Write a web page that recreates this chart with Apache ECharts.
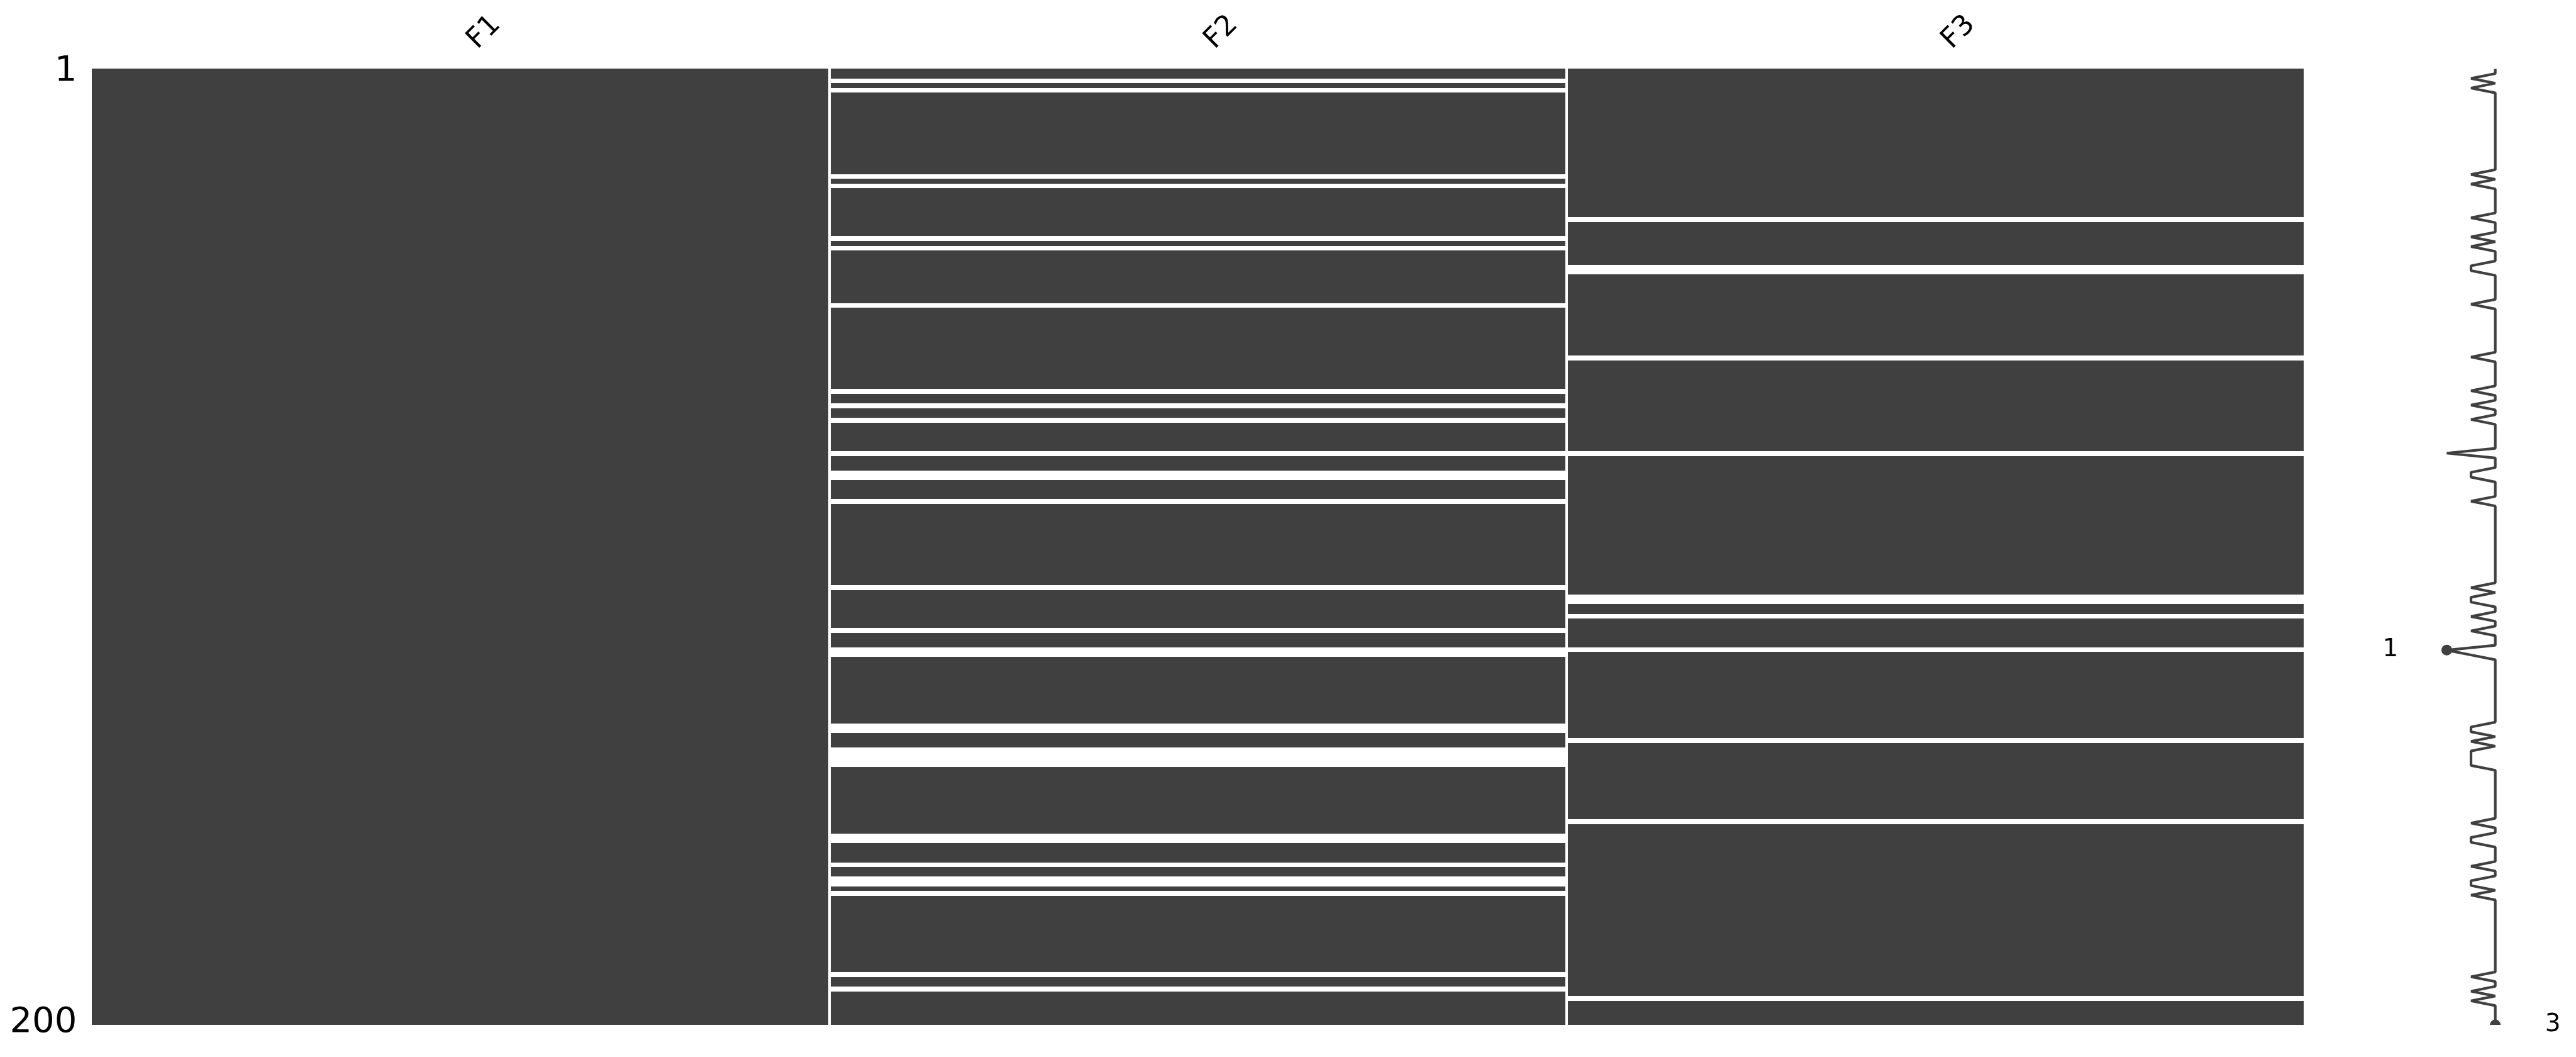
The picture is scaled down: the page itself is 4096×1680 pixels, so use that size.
<!DOCTYPE html>
<html>
<head>
<meta charset="utf-8">
<script src="https://cdn.jsdelivr.net/npm/echarts@6/dist/echarts.min.js"></script>
<style>
html,body{margin:0;padding:0;background:#ffffff;}
#chart{width:4096px;height:1680px;}
</style>
</head>
<body>
<div id="chart"></div>
<script>
// ---------------- data ----------------
const columns = ['F1', 'F2', 'F3'];
const rowCount = 200;
// 1-based row numbers of missing (null) cells per column
const f1MissingRows = [];
const f2MissingRows = [3, 5, 23, 25, 36, 38, 50, 68, 71, 74, 81, 85, 86, 91, 109, 118, 122, 123,
                       138, 139, 143, 144, 145, 146, 161, 162, 167, 170, 171, 173, 190, 193];
const f3MissingRows = [32, 42, 43, 61, 81, 111, 112, 115, 122, 141, 158, 195];
const rowTickLabels = ['1', '200'];

// ---------------- derived ----------------
const missingByColumn = [f1MissingRows, f2MissingRows, f3MissingRows];
const rowNames = [];
for (let r = 1; r <= rowCount; r++) rowNames.push(String(r));

const cellData = [];
missingByColumn.forEach((miss, c) => {
  const set = new Set(miss);
  for (let r = 1; r <= rowCount; r++) {
    if (!set.has(r)) cellData.push([c, r - 1]);
  }
});

const completeness = [];
for (let r = 1; r <= rowCount; r++) {
  let n = 0;
  missingByColumn.forEach(m => { if (!m.includes(r)) n++; });
  completeness.push(n);
}
const minC = Math.min(...completeness), maxC = Math.max(...completeness);
const minIdx = completeness.lastIndexOf(minC), maxIdx = completeness.lastIndexOf(maxC);
const sparkMin = minC - 2, sparkMax = maxC + 2;

const DARK = '#404040';
const FONT = 'DejaVu Sans';

const chart = echarts.init(document.getElementById('chart'), null, {renderer: 'canvas'});
chart.setOption({
  animation: false,
  backgroundColor: '#ffffff',
  grid: [
    {left: 146.3, top: 109.4, width: 3516.7, height: 1519.5},
    {left: 3813.3, top: 109.4, width: 231.5, height: 1519.5}
  ],
  xAxis: [
    {
      gridIndex: 0, type: 'category', position: 'top', data: columns,
      axisLine: {show: false}, axisTick: {show: false}, splitLine: {show: false},
      axisLabel: {show: false}
    },
    {gridIndex: 1, type: 'value', min: sparkMin, max: sparkMax, show: false}
  ],
  yAxis: [
    {
      gridIndex: 0, type: 'category', data: rowNames, inverse: true,
      axisLine: {show: false}, axisTick: {show: false}, splitLine: {show: false},
      axisLabel: {
        interval: 0, fontSize: 56, fontFamily: FONT, color: '#000000', margin: 24,
        formatter: (v, i) => i === 0 ? rowTickLabels[0] : (i === rowCount - 1 ? rowTickLabels[1] : '')
      }
    },
    {gridIndex: 1, type: 'value', min: 0, max: rowCount - 1, inverse: true, show: false}
  ],
  series: [
    {
      type: 'custom', xAxisIndex: 0, yAxisIndex: 0, data: cellData,
      renderItem: (params, api) => {
        const c = api.value(0), r = api.value(1);
        const p = api.coord([c, r]);
        const s = api.size([1, 1]);
        let x0 = Math.round(p[0] - s[0] / 2), x1 = Math.round(p[0] + s[0] / 2);
        const y0 = Math.round(p[1] - s[1] / 2), y1 = Math.round(p[1] + s[1] / 2);
        if (c > 0) x0 += 2;
        if (c < columns.length - 1) x1 -= 2;
        return {type: 'rect', shape: {x: x0, y: y0, width: x1 - x0, height: y1 - y0},
                style: {fill: DARK}};
      }
    },
    {
      // column names, rotated 45 degrees above each column
      type: 'custom', xAxisIndex: 0, yAxisIndex: 0, clip: false,
      data: columns.map((name, i) => [i, 0]),
      renderItem: (params, api) => {
        const i = api.value(0);
        const p = api.coord([i, 0]);
        const s = api.size([1, 1]);
        const top = p[1] - s[1] / 2;
        return {type: 'text', x: p[0] + 18.4, y: top - 38.7, rotation: Math.PI / 4,
                style: {text: columns[i], fontSize: 44.7, fontFamily: FONT, fill: '#000000',
                        align: 'left', verticalAlign: 'middle'}};
      }
    },
    {
      type: 'line', xAxisIndex: 1, yAxisIndex: 1,
      data: completeness.map((v, i) => [v, i]),
      showSymbol: false, clip: true,
      lineStyle: {color: DARK, width: 4.2}
    },
    {
      type: 'custom', xAxisIndex: 1, yAxisIndex: 1, clip: true,
      data: [[minC, minIdx], [maxC, maxIdx]],
      renderItem: (params, api) => {
        const p = api.coord([api.value(0), api.value(1)]);
        return {type: 'circle', shape: {cx: p[0], cy: p[1], r: 8.5}, style: {fill: DARK}};
      }
    },
    {
      type: 'custom', xAxisIndex: 1, yAxisIndex: 1, clip: false,
      data: [[minC, minIdx, 0], [maxC, maxIdx, 1]],
      renderItem: (params, api) => {
        const isMax = api.value(2) === 1;
        const p = api.coord([isMax ? sparkMax : sparkMin, api.value(1)]);
        return {type: 'text', x: p[0] + (isMax ? 2 : 0), y: p[1],
                style: {text: String(api.value(0)), fontSize: 39, fontFamily: FONT, fill: '#000000',
                        align: isMax ? 'left' : 'right', verticalAlign: 'middle'}};
      }
    }
  ]
});
</script>
</body>
</html>
